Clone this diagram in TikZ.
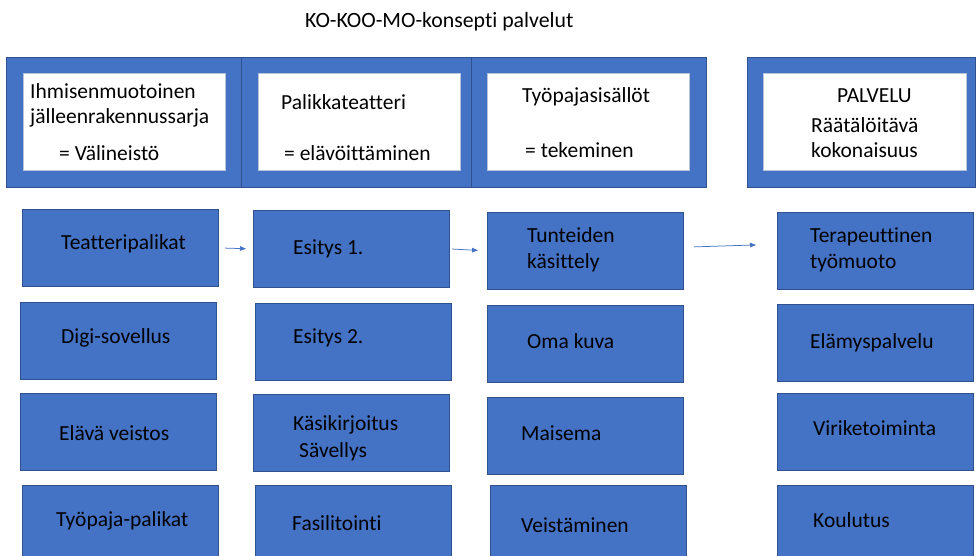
\documentclass[tikz,border=0pt]{standalone}
\usepackage{fontspec}
\setmainfont{Carlito}[Ligatures=NoCommon]
\usepackage{xcolor}
\usetikzlibrary{arrows.meta}
\definecolor{kblue}{HTML}{4472C4}
\definecolor{kborder}{HTML}{2F528F}
\newcommand\isofontti{\fontsize{21.5}{26}\selectfont}
\newcommand\otsikkofontti{\fontsize{21.8}{25}\selectfont}

\tikzset{
  kehys/.style={draw=kborder, fill=kblue, line width=0.8pt, anchor=north west, inner sep=0pt, minimum height=130pt},
  sisus/.style={draw=kborder!35, fill=white, line width=0.4pt, anchor=north west, inner sep=0pt, minimum width=202pt, minimum height=97pt},
  blok/.style={draw=kborder, fill=kblue, line width=0.8pt, anchor=north west, inner sep=0pt, minimum width=196pt, minimum height=77pt},
  teksti/.style={anchor=base west, inner sep=0pt, font=\isofontti},
  nuoli/.style={->, draw=kblue, line width=0.75pt},
}

\begin{document}
\begin{tikzpicture}[x=1pt, y=-1pt, >={Triangle[length=6pt,width=4.5pt]}]
  \useasboundingbox (0,0) rectangle (976,555);
  \clip (0,0) rectangle (976,555);
  \fill[white] (0,0) rectangle (976,555);

  \node[teksti, font=\otsikkofontti] (title) at (305,27) {KO-KOO-MO-konsepti palvelut};

  % otsikot
  \node[kehys, minimum width=235pt] (h1) at (6,57) {};
  \node[kehys, minimum width=230pt] (h2) at (241,57) {};
  \node[kehys, minimum width=235pt] (h3) at (471,57) {};
  \node[kehys, minimum width=228pt] (h4) at (747,57) {};
  \node[sisus] (h1in) at (23,73) {};
  \node[sisus] (h2in) at (258,73) {};
  \node[sisus] (h3in) at (487,73) {};
  \node[sisus, minimum width=203pt] (h4in) at (763,73) {};

  \node[teksti] (h1a) at (30,98) {Ihmisenmuotoinen};
  \node[teksti] (h1b) at (30,123) {jälleenrakennussarja};
  \node[teksti] (h1c) at (59,160) {= Välineistö};
  \node[teksti] (h2a) at (281,109) {Palikkateatteri};
  \node[teksti] (h2b) at (284,160) {= elävöittäminen};
  \node[teksti] (h3a) at (522,102) {Työpajasisällöt};
  \node[teksti] (h3b) at (525,157) {= tekeminen};
  \node[teksti] (h4a) at (837,102) {PALVELU};
  \node[teksti] (h4b) at (811,132) {Räätälöitävä};
  \node[teksti] (h4c) at (811,157) {kokonaisuus};

  % palikat
  \node[blok] (teatteri) at (22,209) {};
  \node[blok] (digi) at (20,302) {};
  \node[blok] (veistos) at (20,393) {};
  \node[blok] (tpalikat) at (22,485) {};
  \node[blok] (esitys1) at (253,210) {};
  \node[blok] (esitys2) at (255,303) {};
  \node[blok] (kasikirj) at (253,394) {};
  \node[blok] (fasil) at (255,485) {};
  \node[blok] (tunteet) at (487,212) {};
  \node[blok] (omakuva) at (487,305) {};
  \node[blok] (maisema) at (487,397) {};
  \node[blok] (veistam) at (490,485) {};
  \node[blok] (terapia) at (777,212) {};
  \node[blok] (elamys) at (777,304) {};
  \node[blok] (virike) at (777,393) {};
  \node[blok] (koulutus) at (777,485) {};

  \node[teksti] (teatteri-t) at (61,249) {Teatteripalikat};
  \node[teksti] (digi-t) at (61,343) {Digi-sovellus};
  \node[teksti] (veistos-t) at (59,440) {Elävä veistos};
  \node[teksti] (tpalikat-t) at (56,526) {Työpaja-palikat};
  \node[teksti] (esitys1-t) at (293,254) {Esitys 1.};
  \node[teksti] (esitys2-t) at (293,343) {Esitys 2.};
  \node[teksti] (kasikirj-t) at (293,430) {Käsikirjoitus};
  \node[teksti] (savellys-t) at (299,457) {Sävellys};
  \node[teksti] (fasil-t) at (292,530) {Fasilitointi};
  \node[teksti] (tunteet-t) at (527,242) {Tunteiden};
  \node[teksti] (kasittely-t) at (527,268) {käsittely};
  \node[teksti] (omakuva-t) at (527,348) {Oma kuva};
  \node[teksti] (maisema-t) at (521,440) {Maisema};
  \node[teksti] (veistam-t) at (521,532) {Veistäminen};
  \node[teksti] (terapia-t) at (810,242) {Terapeuttinen};
  \node[teksti] (tyomuoto-t) at (810,268) {työmuoto};
  \node[teksti] (elamys-t) at (810,348) {Elämyspalvelu};
  \node[teksti] (virike-t) at (813,435) {Viriketoiminta};
  \node[teksti] (koulutus-t) at (813,527) {Koulutus};

  % nuolet
  \draw[nuoli, shorten <=6pt, shorten >=7pt] (teatteri.east) -- (esitys1.west);
  \draw[nuoli, shorten <=2pt, shorten >=9pt] (esitys1.east) -- (tunteet.west);
  \draw[nuoli] ([shift={(10,-4)}]tunteet.east) -- ([shift={(-21,-6)}]terapia.west);
\end{tikzpicture}
\end{document}
